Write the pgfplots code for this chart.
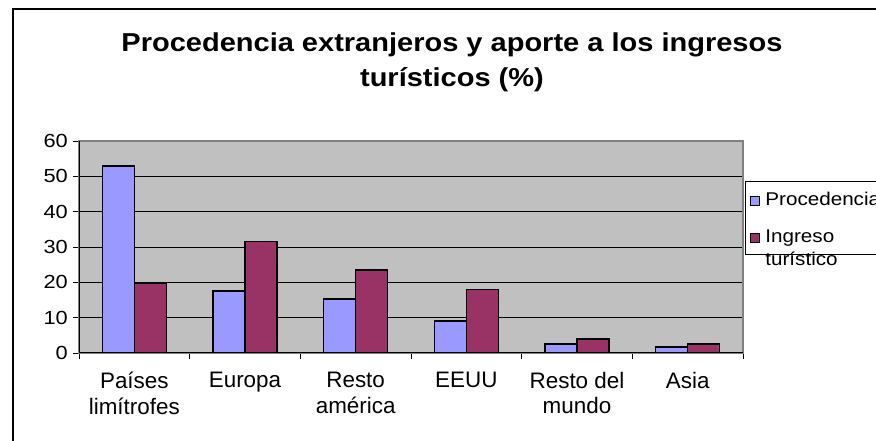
\documentclass[border=0pt]{standalone}
\usepackage{fontspec}
\setmainfont{Liberation Sans}
\newfontfamily\titlefont[FakeStretch=1.12]{Liberation Sans}
\newfontfamily\tickfont[FakeStretch=1.15]{Liberation Sans}
\newfontfamily\legfont[FakeStretch=1.12]{Liberation Sans}
\usepackage{pgfplots}
\pgfplotsset{compat=1.18}
\definecolor{proc}{HTML}{9999FF}
\definecolor{ingr}{HTML}{993366}
\definecolor{plotbg}{HTML}{C0C0C0}
\definecolor{plotframe}{HTML}{808080}
\begin{document}
\begin{tikzpicture}
\useasboundingbox (0,0) rectangle (876bp,441bp);
\clip (0,0) rectangle (876bp,441bp);
\draw[line width=1.5bp] (13bp,-5bp) -- (13bp,432bp) -- (900bp,432bp);
\begin{axis}[
  at={(79bp,88bp)}, anchor=south west,
  scale only axis, width=664bp, height=212bp,
  xmin=-0.5, xmax=5.5, ymin=0, ymax=60,
  ytick={0,10,...,60},
  xtick={-0.5,0.5,...,5.5}, xticklabels={},
  extra x ticks={0,1,2,3,4,5},
  extra x tick labels={{Países\\limítrofes},{Europa},{Resto\\américa},{EEUU},{Resto del\\mundo},{Asia}},
  extra x tick style={major tick length=0pt, tick label style={font=\fontsize{22.5}{25.5}\selectfont, align=center, anchor=north, inner sep=0pt, yshift=-19bp}},
  tick pos=left, tick align=outside, major tick length=6bp,
  tick style={black, line width=0.8bp},
  /pgf/number format/assume math mode=true,
  yticklabel style={font=\tickfont\fontsize{19}{22}\selectfont, inner sep=0pt, xshift=-5bp},
  ymajorgrids, major grid style={black, line width=0.8bp},
  axis background/.style={fill=plotbg},
  axis line style={draw=plotframe, line width=1.2bp},
  ybar=0pt, bar width=32bp,
  title={Procedencia extranjeros y aporte a los ingresos\\turísticos (\%)},
  title style={font=\titlefont\bfseries\fontsize{26}{35}\selectfont, align=center, at={(0.5617,1.483)}, anchor=north, inner sep=0pt},
  legend image code/.code={\draw[#1, line width=1bp] (0bp,0bp) rectangle (9bp,9bp);},
  legend style={at={(1.003,0.811)}, anchor=north west, draw=black, line width=0.8bp, fill=white,
    font=\legfont\fontsize{18.5}{23}\selectfont, inner xsep=5bp, inner ysep=9bp, row sep=15bp,
    cells={anchor=base west}},
]
\addplot[fill=proc, draw=black, line width=1.6bp] coordinates {(0,53) (1,17.5) (2,15.3) (3,9) (4,2.5) (5,1.7)};
\addlegendentry{\hspace{3bp}Procedencia}
\addplot[fill=ingr, draw=black, line width=1.6bp] coordinates {(0,19.8) (1,31.6) (2,23.5) (3,18) (4,4) (5,2.5)};
\addlegendentry{\hspace{3bp}\begin{tabular}[t]{@{}l@{}}Ingreso\\turístico\end{tabular}}
\draw[black, line width=1.2bp] (rel axis cs:0,1) -- (rel axis cs:0,0) -- (rel axis cs:1,0);
\end{axis}
\end{tikzpicture}
\end{document}
